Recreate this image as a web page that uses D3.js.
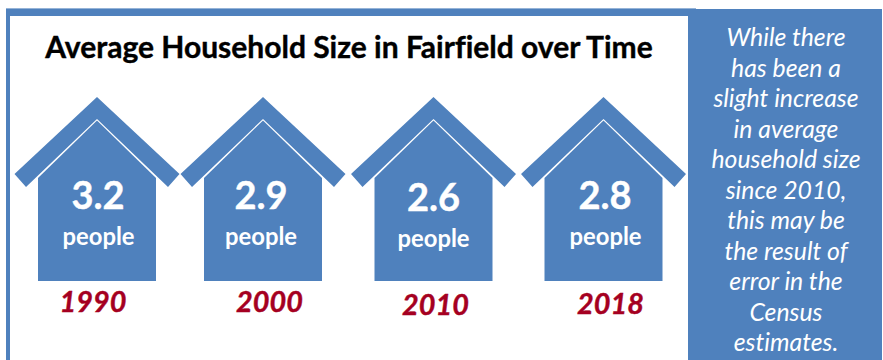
<!DOCTYPE html>
<html>
<head>
<meta charset="utf-8">
<script src="https://cdn.jsdelivr.net/npm/d3@7"></script>
<style>
  html, body { margin: 0; padding: 0; background: #fff; }
  svg { display: block; font-family: Lato, "Open Sans", sans-serif; font-variant-ligatures: none; }
</style>
</head>
<body>
<svg id="chart" width="883" height="360"></svg>
<script>
// Census figures shown on each house
const years = ["1990", "2000", "2010", "2018"];
const householdSizes = [3.2, 2.9, 2.6, 2.8];
const unitLabel = "people";
const chartTitle = "Average Household Size in Fairfield over Time";
const noteLines = [
  "While there", "has been a", "slight increase", "in average",
  "household size", "since 2010,", "this may be", "the result of",
  "error in the", "Census", "estimates."
];

const BLUE = "#4f81bd";
const EDGE = "#95b3d7";
const CRIMSON = "#a50021";

const svg = d3.select("#chart");

// Frame: top and left bars around the white chart area
svg.append("rect").attr("x", 6).attr("y", 8).attr("width", 690).attr("height", 1).attr("fill", EDGE);
svg.append("rect").attr("x", 6).attr("y", 9).attr("width", 690).attr("height", 7).attr("fill", BLUE);
svg.append("rect").attr("x", 6).attr("y", 9).attr("width", 4).attr("height", 351).attr("fill", BLUE);

// Note panel on the right
svg.append("rect").attr("x", 688).attr("y", 9).attr("width", 194).attr("height", 351).attr("fill", BLUE);

const noteY = d3.scaleLinear().domain([0, noteLines.length - 1]).range([46, 351]);
svg.append("g").selectAll("text").data(noteLines).join("text")
  .attr("x", 786)
  .attr("y", (d, i) => noteY(i))
  .attr("text-anchor", "middle")
  .attr("font-size", 24.8)
  .attr("font-style", "italic")
  .attr("fill", "#fff")
  .text(d => d);

// Title
svg.append("text")
  .attr("x", 349).attr("y", 58)
  .attr("text-anchor", "middle")
  .attr("font-size", 30)
  .attr("font-weight", 700)
  .attr("fill", "#000")
  .attr("stroke", "#000")
  .attr("stroke-width", 0.4)
  .text(chartTitle);

// House centres are hand-spaced along the row
const houseX = d3.scaleOrdinal().domain(years).range([97, 263, 433.5, 603.5]);
const numberDx = { "1990": 1, "2000": -2, "2010": 0, "2018": 1.5 };
const numberY = { "1990": 209, "2000": 209, "2010": 211, "2018": 209 };
const peopleDx = { "1990": 1.5, "2000": -2, "2010": 0, "2018": 2 };
const peopleY = { "1990": 245, "2000": 245, "2010": 247, "2018": 245 };
const yearDx = { "1990": -4, "2000": 6.5, "2010": 2, "2018": 7 };
const yearY = { "1990": 312, "2000": 312, "2010": 315, "2018": 314 };

const roofPath = d3.line()([[0, 97], [82.5, 174], [71, 187], [0, 119], [-71, 187], [-82.5, 174]]) + "Z";
const bodyPath = d3.line()([[0, 120.5], [59, 178], [59, 281], [-59, 281], [-59, 178]]) + "Z";

const house = svg.append("g").selectAll("g").data(years).join("g")
  .attr("transform", d => `translate(${houseX(d)},0)`);

house.append("path").attr("d", roofPath).attr("fill", BLUE);
house.append("path").attr("d", bodyPath).attr("fill", BLUE);

house.append("text")
  .attr("x", d => numberDx[d])
  .attr("y", d => numberY[d])
  .attr("text-anchor", "middle")
  .attr("font-size", 38)
  .attr("font-weight", 700)
  .attr("fill", "#fff")
  .attr("stroke", "#fff")
  .attr("stroke-width", 0.4)
  .text((d, i) => d3.format(".1f")(householdSizes[i]));

house.append("text")
  .attr("x", d => peopleDx[d])
  .attr("y", d => peopleY[d])
  .attr("text-anchor", "middle")
  .attr("font-size", 23.8)
  .attr("font-weight", 700)
  .attr("fill", "#fff")
  .text(unitLabel);

house.append("text")
  .attr("x", d => yearDx[d])
  .attr("y", d => yearY[d])
  .attr("text-anchor", "middle")
  .attr("font-size", 28.8)
  .attr("font-weight", 700)
  .attr("font-style", "italic")
  .attr("fill", CRIMSON)
  .attr("stroke", CRIMSON)
  .attr("stroke-width", 0.4)
  .text(d => d);
</script>
</body>
</html>
